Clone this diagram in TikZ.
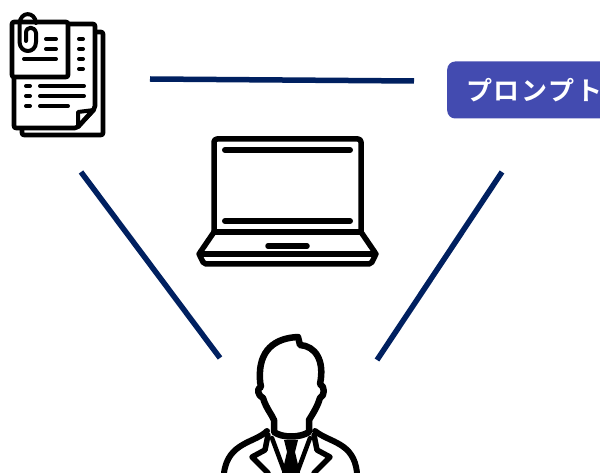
\documentclass[tikz,border=0pt]{standalone}
\usepackage{xcolor}
\usepackage{fontspec}
\newfontfamily\jpfont{Noto Sans CJK JP}[BoldFont={Noto Sans CJK JP Bold}]
\usepackage{tikz}
\usetikzlibrary{positioning}
\definecolor{linknavy}{HTML}{002060}
\definecolor{promptblue}{HTML}{434BB0}

\begin{document}
\begin{tikzpicture}[
  x=1pt, y=-1pt,
  link/.style={draw=linknavy, line width=5.5pt},
  icon/.style={draw=black, line width=4.6pt, line cap=round, line join=round, rounded corners=2pt},
  iconthin/.style={draw=black, line width=4pt, line cap=round, line join=round},
  prompt/.style={fill=promptblue, rounded corners=8pt, minimum height=57pt, minimum width=190pt, anchor=west, inner sep=0pt},
  prompttxt/.style={anchor=west, inner sep=0pt, text=white, font=\jpfont\bfseries\fontsize{26}{26}\selectfont}
]
\useasboundingbox (0,0) rectangle (600,473);

\coordinate (docright) at (150,79);
\coordinate (docbottom) at (81,172);
\coordinate (promptleft) at (414,81);
\coordinate (promptbottom) at (502,172);
\coordinate (personleft) at (220,358);
\coordinate (personright) at (377,360);

% prompt box
\node[prompt] (promptbox) at (447,90) {};
\node[prompttxt] (prompttext) at (466,90) {プ\kern1.5ptロ\kern1.5ptン\kern1.5ptプ\kern1.5ptト};

% document icon
\draw[icon] (95,32) -- (103,32) -- (103,135) -- (22,135) -- (22,128);
\draw[icon, fill=white] (68,24) -- (95,24) -- (95,108) -- (77,128) -- (14,128) -- (14,77);
\draw[iconthin] (78,112) -- (78,127) -- (94,110) -- cycle;
\draw[icon, fill=white] (12,22) rectangle (68,77);
\draw[iconthin, line width=4pt] (36,23) .. controls (35,11) and (20,11) .. (19.5,24) -- (19.5,42) .. controls (20,54) and (36,54) .. (36,42) -- (36,33) .. controls (35,26) and (26,26) .. (26,33) -- (26,41);
\foreach \ya in {39,49} \draw[iconthin] (46,\ya) -- (56,\ya);
\draw[iconthin] (24,59) -- (56,59);
\foreach \ya in {39,49,59,69} \draw[iconthin] (79,\ya) -- (83,\ya);
\foreach \ya in {86,96,106} \draw[iconthin] (26,\ya) -- (30,\ya);
\draw[iconthin] (40,86) -- (84,86);
\draw[iconthin] (40,96) -- (84,96);
\draw[iconthin] (40,106) -- (68,106);

% laptop icon
\draw[icon, line width=5.5pt, rounded corners=3pt] (214,232) -- (214,139) -- (361,139) -- (361,232);
\draw[icon, line width=5.5pt] (214,232) -- (361,232);
\draw[icon, line width=5.5pt] (214,232) -- (199,254) -- (204,264) -- (371,264) -- (376,254) -- (361,232);
\draw[icon, line width=5.5pt] (199,254) -- (376,254);
\foreach \ya in {150,221} \draw[iconthin, line width=6pt] (225,\ya) -- (350,\ya);
\draw[iconthin, line width=5.5pt] (268,246) -- (307,246);

% person icon
\draw[icon, line width=6.5pt, rounded corners=0pt]
  (298,337) .. controls (275,338) and (258,350) .. (260,380)
  .. controls (260,385) and (261,383) .. (261,387)
  .. controls (256,388) and (258,396) .. (263,398)
  .. controls (266,408) and (272,415) .. (274,420)
  -- (274,432) .. controls (282,438) and (300,438) .. (309,432)
  -- (309,420) .. controls (314,412) and (318,405) .. (320,398)
  .. controls (325,396) and (325,386) .. (320,384)
  .. controls (325,360) and (315,346) .. (300,345) -- cycle;
\draw[icon, line width=6pt, rounded corners=0pt]
  (267,431) .. controls (255,443) and (228,442) .. (224,473);
\draw[icon, line width=6pt, rounded corners=0pt]
  (315,431) .. controls (330,443) and (354,442) .. (357,473);
\draw[iconthin, line width=5.5pt] (268,435) -- (265,450) -- (252,457) -- (268,473);
\draw[iconthin, line width=5.5pt] (314,435) -- (317,450) -- (330,457) -- (314,473);
\draw[iconthin, line width=4.5pt] (272,438) -- (285,473);
\draw[iconthin, line width=4.5pt] (310,438) -- (297,473);
\fill[black] (284,440) -- (298,440) -- (295,452) -- (300,473) -- (282,473) -- (287,452) -- cycle;

% links
\draw[link] (docright) -- (promptleft);
\draw[link] (docbottom) -- (personleft);
\draw[link] (promptbottom) -- (personright);
\end{tikzpicture}
\end{document}
